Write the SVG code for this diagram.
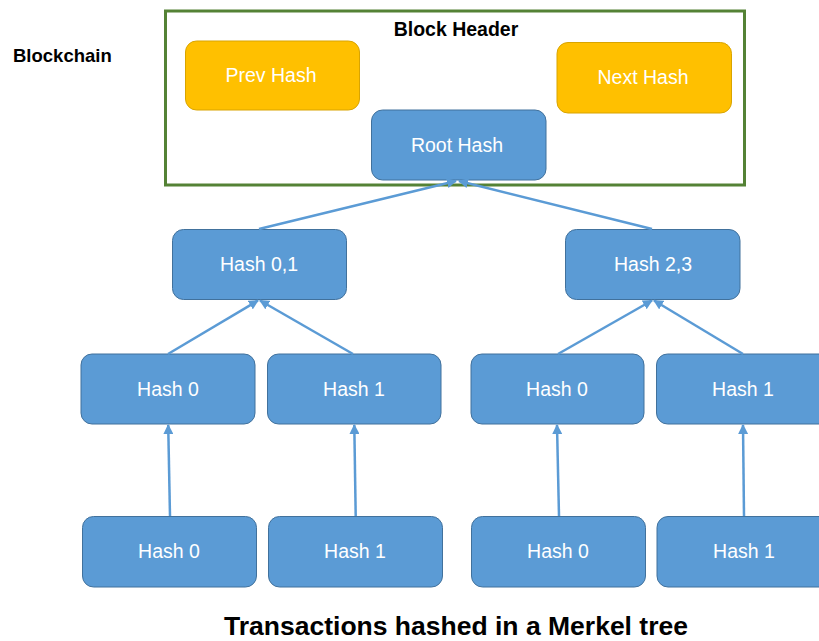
<svg xmlns="http://www.w3.org/2000/svg" width="819" height="641" viewBox="0 0 819 641">
  <style>
    .blue { fill: #5B9BD5; stroke: #41719C; stroke-width: 1; }
    .gold { fill: #FFC000; stroke: #D9A400; stroke-width: 1; }
    .lbl { font-family: "Liberation Sans", Arial, sans-serif; font-size: 19.5px; fill: #FFFFFF; text-anchor: middle; }
    .bold { font-family: "Liberation Sans", Arial, sans-serif; font-weight: bold; fill: #000000; }
    .conn { stroke: #5B9BD5; stroke-width: 2.5; fill: none; marker-end: url(#arr); }
  </style>
  <defs>
    <marker id="arr" viewBox="0 0 10 10" refX="9" refY="5" markerWidth="4" markerHeight="4" orient="auto" markerUnits="strokeWidth">
      <path d="M0,0 L10,5 L0,10 Z" fill="#5B9BD5"/>
    </marker>
  </defs>
  <rect width="819" height="641" fill="#FFFFFF"/>

  <text class="bold" x="13" y="62" font-size="18.5">Blockchain</text>

  <g id="block-header">
    <rect x="165.5" y="11" width="579" height="174" fill="none" stroke="#548235" stroke-width="3"/>
    <text class="bold" x="456" y="36" font-size="19.5" text-anchor="middle">Block Header</text>
  </g>

  <g id="prev-hash">
    <rect class="gold" x="185.5" y="41" width="174" height="69" rx="11"/>
    <text class="lbl" x="271" y="82">Prev Hash</text>
  </g>
  <g id="next-hash">
    <rect class="gold" x="557" y="42.5" width="174.5" height="70.5" rx="11"/>
    <text class="lbl" x="643" y="84">Next Hash</text>
  </g>
  <g id="root-hash">
    <rect class="blue" x="371.5" y="110" width="174.5" height="70" rx="11"/>
    <text class="lbl" x="457" y="151.5">Root Hash</text>
  </g>

  <g id="hash01">
    <rect class="blue" x="172.5" y="229.5" width="174" height="70" rx="11"/>
    <text class="lbl" x="259" y="271">Hash 0,1</text>
  </g>
  <g id="hash23">
    <rect class="blue" x="565.5" y="229.5" width="174.5" height="70" rx="11"/>
    <text class="lbl" x="653" y="271">Hash 2,3</text>
  </g>

  <g id="l2-hash0-a">
    <rect class="blue" x="81" y="354" width="174" height="70" rx="11"/>
    <text class="lbl" x="168" y="396">Hash 0</text>
  </g>
  <g id="l2-hash1-a">
    <rect class="blue" x="267.5" y="354" width="173.5" height="70" rx="11"/>
    <text class="lbl" x="354" y="396">Hash 1</text>
  </g>
  <g id="l2-hash0-b">
    <rect class="blue" x="471" y="354" width="173" height="70" rx="11"/>
    <text class="lbl" x="557" y="396">Hash 0</text>
  </g>
  <g id="l2-hash1-b">
    <rect class="blue" x="656.5" y="354" width="174" height="70" rx="11"/>
    <text class="lbl" x="743" y="396">Hash 1</text>
  </g>

  <g id="l3-hash0-a">
    <rect class="blue" x="82.5" y="516.5" width="174" height="70.5" rx="11"/>
    <text class="lbl" x="169" y="558">Hash 0</text>
  </g>
  <g id="l3-hash1-a">
    <rect class="blue" x="268.5" y="516.5" width="174" height="70.5" rx="11"/>
    <text class="lbl" x="355" y="558">Hash 1</text>
  </g>
  <g id="l3-hash0-b">
    <rect class="blue" x="471.5" y="516.5" width="174" height="70.5" rx="11"/>
    <text class="lbl" x="558" y="558">Hash 0</text>
  </g>
  <g id="l3-hash1-b">
    <rect class="blue" x="657" y="516.5" width="174" height="70.5" rx="11"/>
    <text class="lbl" x="744" y="558">Hash 1</text>
  </g>

  <g id="connectors">
    <line class="conn" x1="259" y1="229" x2="456" y2="181"/>
    <line class="conn" x1="652" y1="229" x2="459" y2="181"/>
    <line class="conn" x1="168" y1="354" x2="258" y2="300.5"/>
    <line class="conn" x1="353" y1="354" x2="260" y2="300.5"/>
    <line class="conn" x1="558" y1="354" x2="652" y2="300.5"/>
    <line class="conn" x1="743" y1="354" x2="654" y2="300.5"/>
    <line class="conn" x1="170" y1="516" x2="168.2" y2="425"/>
    <line class="conn" x1="355.7" y1="516" x2="354.3" y2="425"/>
    <line class="conn" x1="559" y1="516" x2="557" y2="425"/>
    <line class="conn" x1="744" y1="516" x2="743" y2="425"/>
  </g>

  <text class="bold" x="456" y="635" font-size="26.5" text-anchor="middle">Transactions hashed in a Merkel tree</text>
</svg>
